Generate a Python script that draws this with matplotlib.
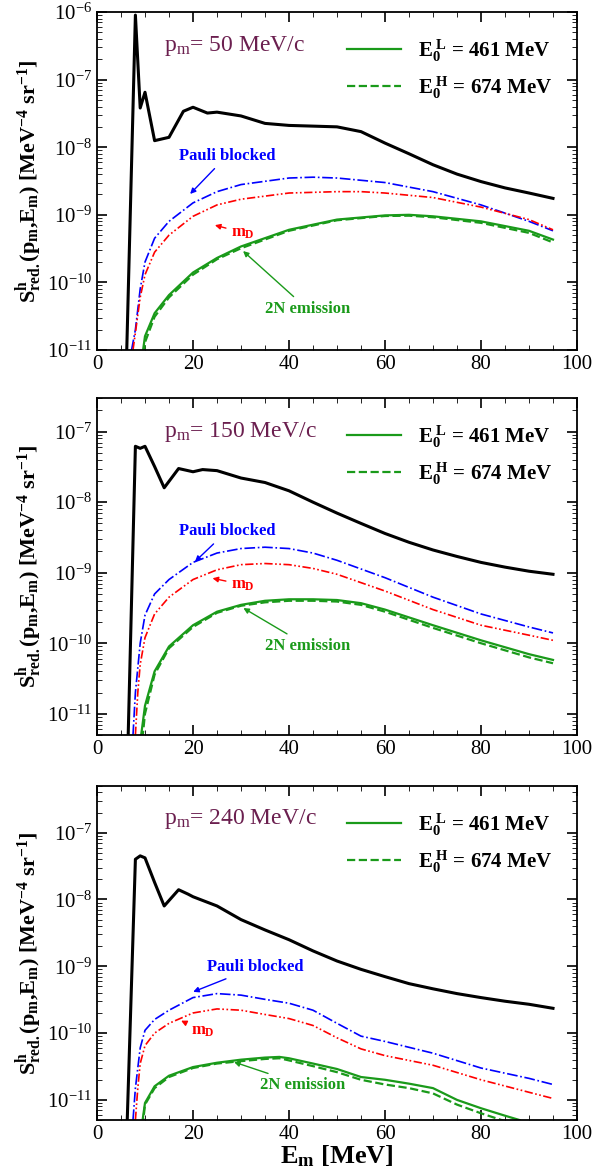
import matplotlib
matplotlib.use("Agg")
import matplotlib.pyplot as plt
import numpy as np

plt.rcParams["font.family"] = "Liberation Serif"
plt.rcParams["mathtext.fontset"] = "custom"
plt.rcParams["mathtext.rm"] = "Liberation Serif"
plt.rcParams["mathtext.it"] = "Liberation Serif"
plt.rcParams["mathtext.bf"] = "Liberation Serif:bold"

# ---- panel 1: pm = 50 MeV/c ----
x1_tot = [6.2, 8, 9, 10, 12, 15, 18, 20, 23, 25, 30, 35, 40, 45, 50, 55, 60, 65, 70, 75, 80, 85, 90, 95]
y1_tot = [1e-11, 9e-7, 3.8e-8, 6.5e-8, 1.25e-8, 1.4e-8, 3.4e-8, 3.9e-8, 3.2e-8, 3.3e-8, 2.9e-8, 2.25e-8, 2.1e-8, 2.05e-8, 2e-8, 1.7e-8, 1.15e-8, 8e-9, 5.5e-9, 4e-9, 3.1e-9, 2.5e-9, 2.1e-9, 1.75e-9]
x1_pb = [7.2, 8, 9, 10, 12, 15, 20, 25, 30, 40, 45, 50, 60, 70, 80, 90, 95]
y1_pb = [1e-11, 2e-11, 8e-11, 2e-10, 4.5e-10, 8e-10, 1.5e-9, 2.2e-9, 2.8e-9, 3.5e-9, 3.6e-9, 3.5e-9, 3e-9, 2.2e-9, 1.4e-9, 8e-10, 5.8e-10]
x1_md = [7.5, 8, 9, 10, 12, 15, 20, 25, 30, 40, 50, 55, 60, 70, 80, 90, 95]
y1_md = [1e-11, 1.8e-11, 6e-11, 1.3e-10, 2.8e-10, 5e-10, 9.5e-10, 1.4e-9, 1.7e-9, 2.1e-9, 2.2e-9, 2.2e-9, 2.1e-9, 1.8e-9, 1.3e-9, 8.5e-10, 6e-10]
x1_2n = [9.6, 10, 12, 15, 20, 25, 30, 40, 50, 60, 65, 70, 80, 90, 95]
y1_2n = [1e-11, 1.6e-11, 3.5e-11, 6.5e-11, 1.4e-10, 2.3e-10, 3.4e-10, 6e-10, 8.5e-10, 9.8e-10, 1e-9, 9.5e-10, 8e-10, 5.8e-10, 4.3e-10]
y1_2nh = [6e-12, 1.3e-11, 3.1e-11, 6e-11, 1.3e-10, 2.2e-10, 3.2e-10, 5.8e-10, 8.3e-10, 9.6e-10, 9.7e-10, 9.2e-10, 7.6e-10, 5.4e-10, 3.9e-10]

# ---- panel 2: pm = 150 MeV/c ----
x2_tot = [6.5, 8, 9, 10, 12, 14, 17, 20, 22, 25, 30, 35, 40, 45, 50, 55, 60, 65, 70, 75, 80, 85, 90, 95]
y2_tot = [5e-12, 6.2e-8, 5.8e-8, 6.2e-8, 3.2e-8, 1.6e-8, 3e-8, 2.7e-8, 2.9e-8, 2.8e-8, 2.2e-8, 1.9e-8, 1.45e-8, 1e-8, 7e-9, 5e-9, 3.6e-9, 2.7e-9, 2.1e-9, 1.7e-9, 1.4e-9, 1.2e-9, 1.05e-9, 9.5e-10]
x2_pb = [7.5, 8, 9, 10, 12, 15, 20, 25, 30, 35, 40, 45, 50, 60, 70, 80, 90, 95]
y2_pb = [5e-12, 2e-11, 1e-10, 2.5e-10, 5e-10, 8e-10, 1.4e-9, 1.9e-9, 2.2e-9, 2.3e-9, 2.2e-9, 1.9e-9, 1.5e-9, 8.5e-10, 4.5e-10, 2.6e-10, 1.7e-10, 1.4e-10]
x2_md = [8, 8.5, 9, 10, 12, 15, 20, 25, 30, 35, 40, 45, 50, 60, 70, 80, 90, 95]
y2_md = [5e-12, 2e-11, 5e-11, 1.2e-10, 2.6e-10, 4.5e-10, 8e-10, 1.1e-9, 1.3e-9, 1.35e-9, 1.3e-9, 1.15e-9, 9.5e-10, 5.5e-10, 3e-10, 1.8e-10, 1.3e-10, 1.1e-10]
x2_2n = [9.2, 10, 12, 15, 20, 25, 30, 35, 40, 45, 50, 55, 60, 70, 80, 90, 95]
y2_2n = [5e-12, 1.3e-11, 4e-11, 9e-11, 1.8e-10, 2.8e-10, 3.5e-10, 4e-10, 4.2e-10, 4.2e-10, 4.1e-10, 3.7e-10, 3e-10, 1.8e-10, 1.1e-10, 7e-11, 5.8e-11]
y2_2nh = [3e-12, 1e-11, 3.6e-11, 8.5e-11, 1.7e-10, 2.7e-10, 3.4e-10, 3.8e-10, 4e-10, 4e-10, 3.9e-10, 3.5e-10, 2.8e-10, 1.65e-10, 1e-10, 6.3e-11, 5.2e-11]

# ---- panel 3: pm = 240 MeV/c ----
x3_tot = [6.3, 8, 9, 10, 12, 14, 17, 19, 20, 25, 30, 35, 40, 45, 50, 55, 60, 65, 70, 75, 80, 85, 90, 95]
y3_tot = [5e-12, 4e-8, 4.5e-8, 4.2e-8, 1.8e-8, 8e-9, 1.4e-8, 1.2e-8, 1.1e-8, 8e-9, 5e-9, 3.5e-9, 2.5e-9, 1.7e-9, 1.2e-9, 9e-10, 7e-10, 5.5e-10, 4.6e-10, 3.9e-10, 3.4e-10, 3e-10, 2.7e-10, 2.35e-10]
x3_pb = [7.5, 8, 9, 10, 12, 15, 20, 25, 30, 35, 40, 45, 50, 55, 60, 70, 80, 90, 95]
y3_pb = [5e-12, 1.5e-11, 6e-11, 1.1e-10, 1.6e-10, 2.2e-10, 3.4e-10, 3.9e-10, 3.7e-10, 3.2e-10, 2.8e-10, 2.2e-10, 1.4e-10, 9e-11, 7.5e-11, 5e-11, 3e-11, 2.1e-11, 1.7e-11]
x3_md = [8, 8.5, 9, 10, 12, 15, 20, 25, 30, 35, 40, 45, 50, 55, 60, 70, 80, 90, 95]
y3_md = [5e-12, 1.5e-11, 3.5e-11, 6.5e-11, 1e-10, 1.4e-10, 2e-10, 2.3e-10, 2.2e-10, 1.9e-10, 1.65e-10, 1.3e-10, 8.5e-11, 5.8e-11, 4.6e-11, 3.3e-11, 2e-11, 1.3e-11, 1.05e-11]
x3_2n = [9.5, 10, 12, 15, 20, 25, 30, 35, 38, 40, 45, 50, 55, 60, 65, 70, 75, 80, 85, 88]
y3_2n = [5e-12, 9e-12, 1.6e-11, 2.3e-11, 3.1e-11, 3.6e-11, 4e-11, 4.3e-11, 4.4e-11, 4.2e-11, 3.5e-11, 2.9e-11, 2.2e-11, 2e-11, 1.75e-11, 1.5e-11, 1e-11, 7.5e-12, 5.8e-12, 5e-12]
y3_2nh = [4e-12, 8.5e-12, 1.5e-11, 2.2e-11, 3e-11, 3.5e-11, 3.8e-11, 4.1e-11, 4.2e-11, 3.9e-11, 3.2e-11, 2.6e-11, 2e-11, 1.7e-11, 1.5e-11, 1.25e-11, 8.5e-12, 6.3e-12, 4.8e-12, 4.1e-12]

panels = [
    dict(pm="50", ylim=(1e-11, 1e-6), tot=(x1_tot, y1_tot), pb=(x1_pb, y1_pb), md=(x1_md, y1_md),
         tn=(x1_2n, y1_2n, y1_2nh),
         pb_lab=(17, 6.5e-9, 19, 1.9e-9), md_lab=(28, 4.8e-10, 24, 7.2e-10), tn_lab=(35, 3.5e-11, 30, 3.1e-10)),
    dict(pm="150", ylim=(5e-12, 3e-7), tot=(x2_tot, y2_tot), pb=(x2_pb, y2_pb), md=(x2_md, y2_md),
         tn=(x2_2n, y2_2n, y2_2nh),
         pb_lab=(17, 3.4e-9, 20, 1.35e-9), md_lab=(28, 6e-10, 23.5, 8.5e-10), tn_lab=(35, 8e-11, 30, 3.3e-10)),
    dict(pm="240", ylim=(5e-12, 5e-7), tot=(x3_tot, y3_tot), pb=(x3_pb, y3_pb), md=(x3_md, y3_md),
         tn=(x3_2n, y3_2n, y3_2nh),
         pb_lab=(23, 8.5e-10, 19.5, 4e-10), md_lab=(19.5, 9.5e-11, 17, 1.6e-10), tn_lab=(34, 1.45e-11, 28, 3.8e-11)),
]

green = "#1a9a1a"
fig = plt.figure(figsize=(6.11, 11.71), dpi=100)
tops = [12, 398, 786]
bots = [350, 735, 1120]
for p, t, b in zip(panels, tops, bots):
    ax = fig.add_axes([97 / 611, 1 - b / 1171, 480 / 611, (b - t) / 1171])
    ax.plot(*p["tot"], color="black", lw=2.2)
    ax.plot(*p["pb"], color="blue", lw=1.2, ls="-.")
    ax.plot(*p["md"], color="red", lw=1.2, ls=(0, (5, 1.5, 1, 1.5, 1, 1.5)))
    xs, yl, yh = p["tn"]
    ax.plot(xs, yl, color=green, lw=1.6, label=r"$\mathbf{E_0^{\ L}}$ = 461 MeV")
    ax.plot(xs, yh, color=green, lw=1.6, ls="--", label=r"$\mathbf{E_0^{\ H}}$ = 674 MeV")
    ax.set_yscale("log")
    ax.set_xlim(0, 100)
    ax.set_ylim(*p["ylim"])
    ax.set_xticks([0, 20, 40, 60, 80, 100])
    ax.xaxis.set_minor_locator(matplotlib.ticker.MultipleLocator(5))
    ax.yaxis.set_minor_locator(matplotlib.ticker.LogLocator(subs=np.arange(2, 10)))
    ax.yaxis.set_minor_formatter(matplotlib.ticker.NullFormatter())
    ax.tick_params(which="both", direction="in", top=True, right=True, labelsize=15)
    ax.tick_params(which="major", length=7, width=1.2)
    ax.tick_params(which="minor", length=3.5)
    for s in ax.spines.values():
        s.set_linewidth(1.3)
    ax.text(0.14, 0.9, r"p$_\mathregular{m}$= " + p["pm"] + " MeV/c", color="#6b1f4f", fontsize=17,
            transform=ax.transAxes, va="center")
    ax.legend(loc="upper right", frameon=False, prop=dict(size=15, weight="bold"),
              handlelength=2.6, borderaxespad=0.8, labelspacing=0.5)
    for key, txt, col in (("pb_lab", "Pauli blocked", "blue"), ("md_lab", r"m$_\mathregular{D}$", "red"),
                          ("tn_lab", "2N emission", green)):
        tx, ty, axx, ayy = p[key]
        ax.annotate(txt, xy=(axx, ayy), xytext=(tx, ty), color=col, fontsize=12, fontweight="bold",
                    arrowprops=dict(arrowstyle="-|>", color=col, lw=1, mutation_scale=8))
    ax.set_ylabel(r"S$^\mathregular{h}_\mathregular{red.}$(p$_\mathregular{m}$,E$_\mathregular{m}$) [MeV$^\mathregular{-4}$ sr$^\mathregular{-1}$]",
                  fontsize=16, fontweight="bold", labelpad=2)
ax.set_xlabel(r"E$_\mathregular{m}$ [MeV]", fontsize=19, fontweight="bold", labelpad=0)
fig.savefig("out.png", dpi=100)
